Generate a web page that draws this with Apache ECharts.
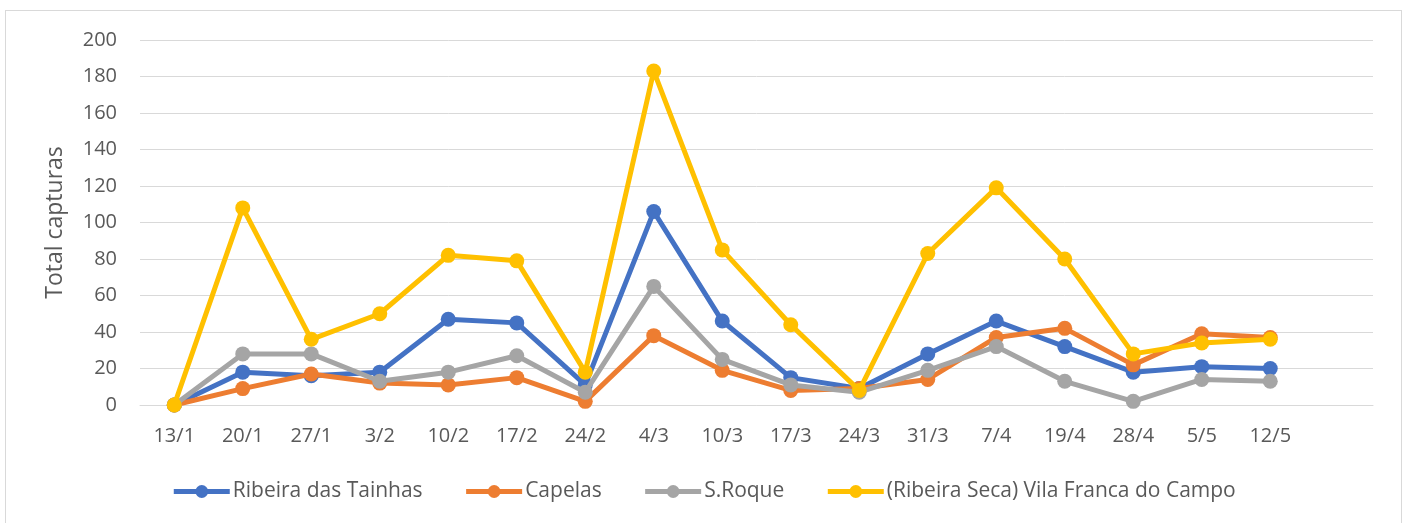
<!DOCTYPE html>
<html><head><meta charset="utf-8">
<script src="https://cdn.jsdelivr.net/npm/echarts@6/dist/echarts.min.js"></script>
<style>
html,body{margin:0;padding:0;background:#fff;}
#frame{position:absolute;left:5px;top:10px;width:1397px;height:600px;border:1px solid #d9d9d9;box-sizing:border-box;}
#c{position:absolute;left:0;top:0;width:1407px;height:523px;}
</style></head>
<body>
<div id="frame"></div>
<div id="c"></div>
<script>
const categories = ['13/1','20/1','27/1','3/2','10/2','17/2','24/2','4/3','10/3','17/3','24/3','31/3','7/4','19/4','28/4','5/5','12/5',''];
const ribeiraTainhas = [0,18,16,18,47,45,11,106,46,15,9,28,46,32,18,21,20];
const capelas = [0,9,17,12,11,15,2,38,19,8,9,14,37,42,22,39,37];
const sRoque = [0,28,28,13,18,27,7,65,25,11,7,19,32,13,2,14,13];
const vilaFranca = [0,108,36,50,82,79,18,183,85,44,8,83,119,80,28,34,36];
const seriesNames = ['Ribeira das Tainhas','Capelas','S.Roque','(Ribeira Seca) Vila Franca do Campo'];
const colors = ['#4472C4','#ED7D31','#A5A5A5','#FFC000'];
const yTicks = {min:0, max:200, interval:20};

const font = '"Open Sans", sans-serif';
const chart = echarts.init(document.getElementById('c'));
const data = [ribeiraTainhas, capelas, sRoque, vilaFranca];
chart.setOption({
  animation:false,
  color: colors,
  grid:{left:140,right:34,top:40,bottom:118,containLabel:false},
  legend:{
    top:476, left:'center',
    itemWidth:56, itemHeight:16, itemGap:41,
    lineStyle:{width:5},
    textStyle:{color:'#595959',fontSize:21,fontFamily:font,padding:[0,0,0,-2]},
    data: seriesNames
  },
  xAxis:{
    type:'category', data:categories, boundaryGap:true,
    axisLine:{show:true,lineStyle:{color:'#d9d9d9',width:1}},
    axisTick:{show:false},
    axisLabel:{color:'#595959',fontSize:20,fontFamily:font,margin:21,interval:0}
  },
  yAxis:{
    type:'value', min:yTicks.min, max:yTicks.max, interval:yTicks.interval,
    name:'Total capturas', nameLocation:'middle', nameGap:73,
    nameTextStyle:{color:'#595959',fontSize:23,fontFamily:font},
    axisLine:{show:false}, axisTick:{show:false},
    splitLine:{lineStyle:{color:'#d9d9d9',width:1}},
    axisLabel:{color:'#595959',fontSize:20,fontFamily:font,margin:23}
  },
  series: seriesNames.map((n,i)=>({
    name:n, type:'line', data:data[i],
    symbol:'circle', symbolSize:15,
    lineStyle:{width:5,color:colors[i]},
    itemStyle:{color:colors[i]},
    z:2+i
  }))
});
</script>
</body></html>
